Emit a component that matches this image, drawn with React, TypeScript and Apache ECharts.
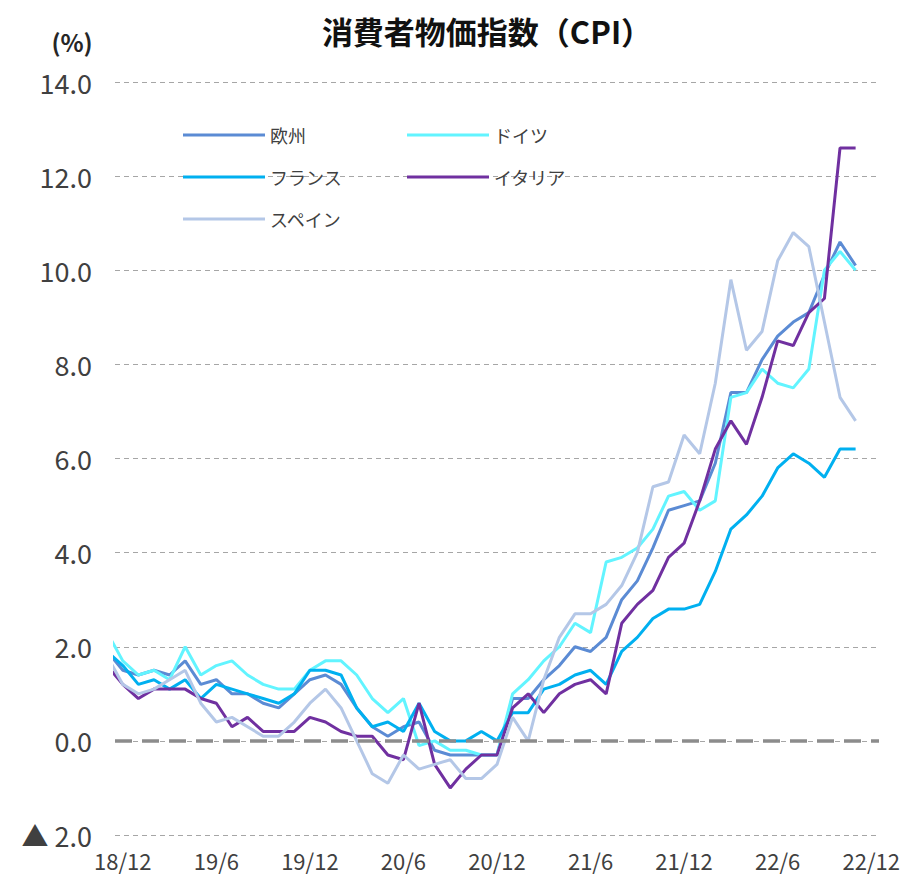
import React, { useEffect, useRef } from "react";
import * as echarts from "echarts";

// x-axis categories (monthly, 18/12 .. 22/12)
const categories = [
  "18/12",
  "19/1", "19/2", "19/3", "19/4", "19/5", "19/6", "19/7", "19/8", "19/9", "19/10", "19/11", "19/12",
  "20/1", "20/2", "20/3", "20/4", "20/5", "20/6", "20/7", "20/8", "20/9", "20/10", "20/11", "20/12",
  "21/1", "21/2", "21/3", "21/4", "21/5", "21/6", "21/7", "21/8", "21/9", "21/10", "21/11", "21/12",
  "22/1", "22/2", "22/3", "22/4", "22/5", "22/6", "22/7", "22/8", "22/9", "22/10", "22/11", "22/12",
];

// series values start one month before the axis (18/11) and run to 22/11
const seriesFirstIndex = -1;

const euro = [1.9, 1.5,
  1.4, 1.5, 1.4, 1.7, 1.2, 1.3, 1.0, 1.0, 0.8, 0.7, 1.0, 1.3,
  1.4, 1.2, 0.7, 0.3, 0.1, 0.3, 0.4, -0.2, -0.3, -0.3, -0.3, -0.3,
  0.9, 0.9, 1.3, 1.6, 2.0, 1.9, 2.2, 3.0, 3.4, 4.1, 4.9, 5.0,
  5.1, 5.9, 7.4, 7.4, 8.1, 8.6, 8.9, 9.1, 9.9, 10.6, 10.1];

const germany = [2.3, 1.7,
  1.4, 1.5, 1.3, 2.0, 1.4, 1.6, 1.7, 1.4, 1.2, 1.1, 1.1, 1.5,
  1.7, 1.7, 1.4, 0.9, 0.6, 0.9, -0.1, 0.0, -0.2, -0.2, -0.3, -0.3,
  1.0, 1.3, 1.7, 2.0, 2.5, 2.3, 3.8, 3.9, 4.1, 4.5, 5.2, 5.3,
  4.9, 5.1, 7.3, 7.4, 7.9, 7.6, 7.5, 7.9, 10.0, 10.4, 10.0];

const france = [1.9, 1.6,
  1.2, 1.3, 1.1, 1.3, 0.9, 1.2, 1.1, 1.0, 0.9, 0.8, 1.0, 1.5,
  1.5, 1.4, 0.7, 0.3, 0.4, 0.2, 0.8, 0.2, 0.0, 0.0, 0.2, 0.0,
  0.6, 0.6, 1.1, 1.2, 1.4, 1.5, 1.2, 1.9, 2.2, 2.6, 2.8, 2.8,
  2.9, 3.6, 4.5, 4.8, 5.2, 5.8, 6.1, 5.9, 5.6, 6.2, 6.2];

const italy = [1.6, 1.2,
  0.9, 1.1, 1.1, 1.1, 0.9, 0.8, 0.3, 0.5, 0.2, 0.2, 0.2, 0.5,
  0.4, 0.2, 0.1, 0.1, -0.3, -0.4, 0.8, -0.5, -1.0, -0.6, -0.3, -0.3,
  0.7, 1.0, 0.6, 1.0, 1.2, 1.3, 1.0, 2.5, 2.9, 3.2, 3.9, 4.2,
  5.1, 6.2, 6.8, 6.3, 7.3, 8.5, 8.4, 9.1, 9.4, 12.6, 12.6];

const spain = [1.8, 1.2,
  1.0, 1.1, 1.3, 1.5, 0.8, 0.4, 0.5, 0.3, 0.1, 0.1, 0.4, 0.8,
  1.1, 0.7, 0.0, -0.7, -0.9, -0.3, -0.6, -0.5, -0.4, -0.8, -0.8, -0.5,
  0.5, 0.0, 1.3, 2.2, 2.7, 2.7, 2.9, 3.3, 4.0, 5.4, 5.5, 6.5,
  6.1, 7.6, 9.8, 8.3, 8.7, 10.2, 10.8, 10.5, 8.9, 7.3, 6.8];

const seriesNames = ["欧州", "ドイツ", "フランス", "イタリア", "スペイン"];
const seriesValues = [euro, germany, france, italy, spain];
const seriesColors = ["#5B8BD4", "#62F4FF", "#00B0F0", "#7030A0", "#B4C7E7"];

const yTicks = { min: -2, max: 14, interval: 2 };

const legendPos = [
  { left: 178, top: 119 },
  { left: 402, top: 119 },
  { left: 178, top: 161 },
  { left: 402, top: 161 },
  { left: 178, top: 203 },
];

const JP = "'Noto Sans CJK JP', 'Noto Sans', sans-serif";

export default function App() {
  const ref = useRef<HTMLDivElement>(null);

  useEffect(() => {
    if (!ref.current) return;
    const chart = echarts.init(ref.current, undefined, { renderer: "svg" });

    const gridLeft = 115;
    const gridRight = 906 - 879;
    const gridTop = 82;
    const gridBottom = 882 - 835;

    const lineSeries = seriesNames.map((name, si) => ({
      name,
      type: "line",
      xAxisIndex: 1,
      yAxisIndex: 0,
      data: seriesValues[si].map((v, k) => [k + seriesFirstIndex, v]),
      showSymbol: false,
      symbol: "none",
      clip: true,
      z: 3,
      lineStyle: { color: seriesColors[si], width: 3 },
      itemStyle: { color: seriesColors[si] },
    }));

    const zeroSeries = {
      name: "zero",
      type: "line",
      xAxisIndex: 1,
      yAxisIndex: 0,
      data: [],
      z: 2,
      markLine: {
        silent: true,
        symbol: ["none", "none"],
        label: { show: false },
        lineStyle: { color: "#8c8c8c", width: 3.5, type: [17, 10] },
        data: [{ yAxis: 0 }],
      },
    };

    chart.setOption({
      animation: false,
      backgroundColor: "#ffffff",
      grid: { left: gridLeft, right: gridRight, top: gridTop, bottom: gridBottom, containLabel: false },
      graphic: [
        {
          type: "text",
          x: 487,
          y: 30,
          style: {
            text: "消費者物価指数（CPI）",
            font: `bold 31px ${JP}`,
            fill: "#111111",
            align: "center",
            verticalAlign: "middle",
          },
        },
        {
          type: "text",
          x: 72,
          y: 41,
          style: {
            text: "(%)",
            font: `bold 24px ${JP}`,
            fill: "#262626",
            align: "center",
            verticalAlign: "middle",
          },
        },
      ],
      legend: seriesNames.map((name, i) => ({
        data: [name],
        left: legendPos[i].left,
        top: legendPos[i].top,
        icon: "rect",
        itemWidth: 82,
        itemHeight: 3,
        selectedMode: false,
        textStyle: { fontSize: 18, color: "#404040", fontFamily: JP, lineHeight: 22, padding: [0, 0, 0, 0] },
      })),
      xAxis: [
        {
          type: "category",
          data: categories,
          boundaryGap: true,
          axisLine: { show: false },
          axisTick: { show: false },
          splitLine: { show: false },
          axisLabel: {
            interval: 5,
            fontSize: 22,
            color: "#404040",
            fontFamily: JP,
            margin: 14,
          },
        },
        {
          type: "value",
          min: -0.5,
          max: categories.length - 0.5,
          show: false,
          splitLine: { show: false },
        },
      ],
      yAxis: {
        type: "value",
        min: yTicks.min,
        max: yTicks.max,
        interval: yTicks.interval,
        axisLine: { show: false },
        axisTick: { show: false },
        splitLine: { show: true, lineStyle: { color: "#a6a6a6", width: 1, type: [5, 4] } },
        axisLabel: {
          fontSize: 27,
          color: "#404040",
          fontFamily: JP,
          margin: 23,
          formatter: (v: number) => (v < 0 ? "▲ " + Math.abs(v).toFixed(1) : v.toFixed(1)),
        },
      },
      series: [zeroSeries, ...lineSeries],
    });

    return () => chart.dispose();
  }, []);

  return (
    <div
      ref={ref}
      style={{ position: "absolute", left: 0, top: 0, width: 906, height: 882, background: "#fff" }}
    />
  );
}
